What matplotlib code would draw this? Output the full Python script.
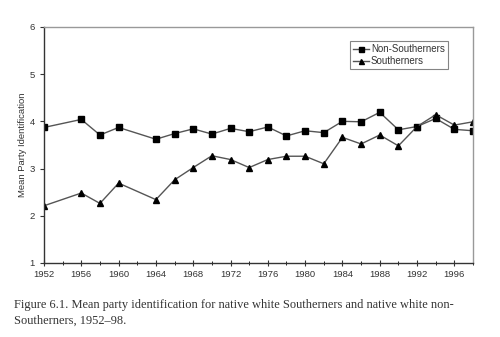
import numpy as np
import matplotlib.pyplot as plt

years = [1952, 1956, 1958, 1960, 1964, 1966, 1968, 1970, 1972, 1974, 1976,
         1978, 1980, 1982, 1984, 1986, 1988, 1990, 1992, 1994, 1996, 1998]
non_southerners = [3.87, 4.04, 3.71, 3.87, 3.62, 3.74, 3.84, 3.73, 3.85, 3.78, 3.88,
                   3.69, 3.80, 3.76, 4.00, 3.99, 4.19, 3.82, 3.89, 4.06, 3.83, 3.80]
southerners = [2.21, 2.48, 2.26, 2.69, 2.34, 2.76, 3.02, 3.27, 3.19, 3.02, 3.19,
               3.26, 3.26, 3.10, 3.66, 3.52, 3.71, 3.48, 3.89, 4.14, 3.92, 3.99]
tick_years = list(range(1952, 1997, 4))
caption = ("Figure 6.1. Mean party identification for native white Southerners and native white non-\n"
           "Southerners, 1952\u201398.")

plt.rcParams["font.family"] = ["Liberation Sans", "DejaVu Sans"]

fig = plt.figure(figsize=(5.0, 3.37), dpi=100)
ax = fig.add_axes([0.088, 0.22, 0.858, 0.70])

line_col = "#555555"
ax.plot(years, non_southerners, color=line_col, linewidth=1.0, marker="s",
        markersize=4.5, markerfacecolor="black", markeredgecolor="black",
        label="Non-Southerners")
ax.plot(years, southerners, color=line_col, linewidth=1.0, marker="^",
        markersize=4.5, markerfacecolor="black", markeredgecolor="black",
        label="Southerners")

ax.set_xlim(1952, 1998)
ax.set_ylim(1, 6)
ax.set_xticks(tick_years)
ax.set_xticks(range(1952, 1999, 2), minor=True)
ax.set_yticks(range(1, 7))
ax.tick_params(axis="both", labelsize=6.8, colors="#333333", length=3, width=0.8)
ax.tick_params(axis="x", which="both", direction="inout", length=4)
ax.tick_params(axis="x", which="minor", length=3)
ax.set_ylabel("Mean Party Identification", fontsize=6.8, color="#333333", labelpad=2)

for side in ("left", "bottom"):
    ax.spines[side].set_color("#333333")
    ax.spines[side].set_linewidth(1.0)
for side in ("top", "right"):
    ax.spines[side].set_color("#999999")
    ax.spines[side].set_linewidth(1.0)

leg = ax.legend(loc="upper right", bbox_to_anchor=(0.952, 0.96), fontsize=7,
                frameon=True, fancybox=False, handlelength=1.6, handletextpad=0.2,
                borderpad=0.3, labelspacing=0.2, markerscale=0.8)
leg.get_frame().set_edgecolor("#666666")
leg.get_frame().set_linewidth(0.8)
for t in leg.get_texts():
    t.set_color("#333333")

fig.text(0.028, 0.03, caption, fontsize=8.9, family=["Liberation Serif", "DejaVu Serif"],
         color="#333333", ha="left", va="bottom", linespacing=1.45)

fig.savefig("out.png", dpi=100)
